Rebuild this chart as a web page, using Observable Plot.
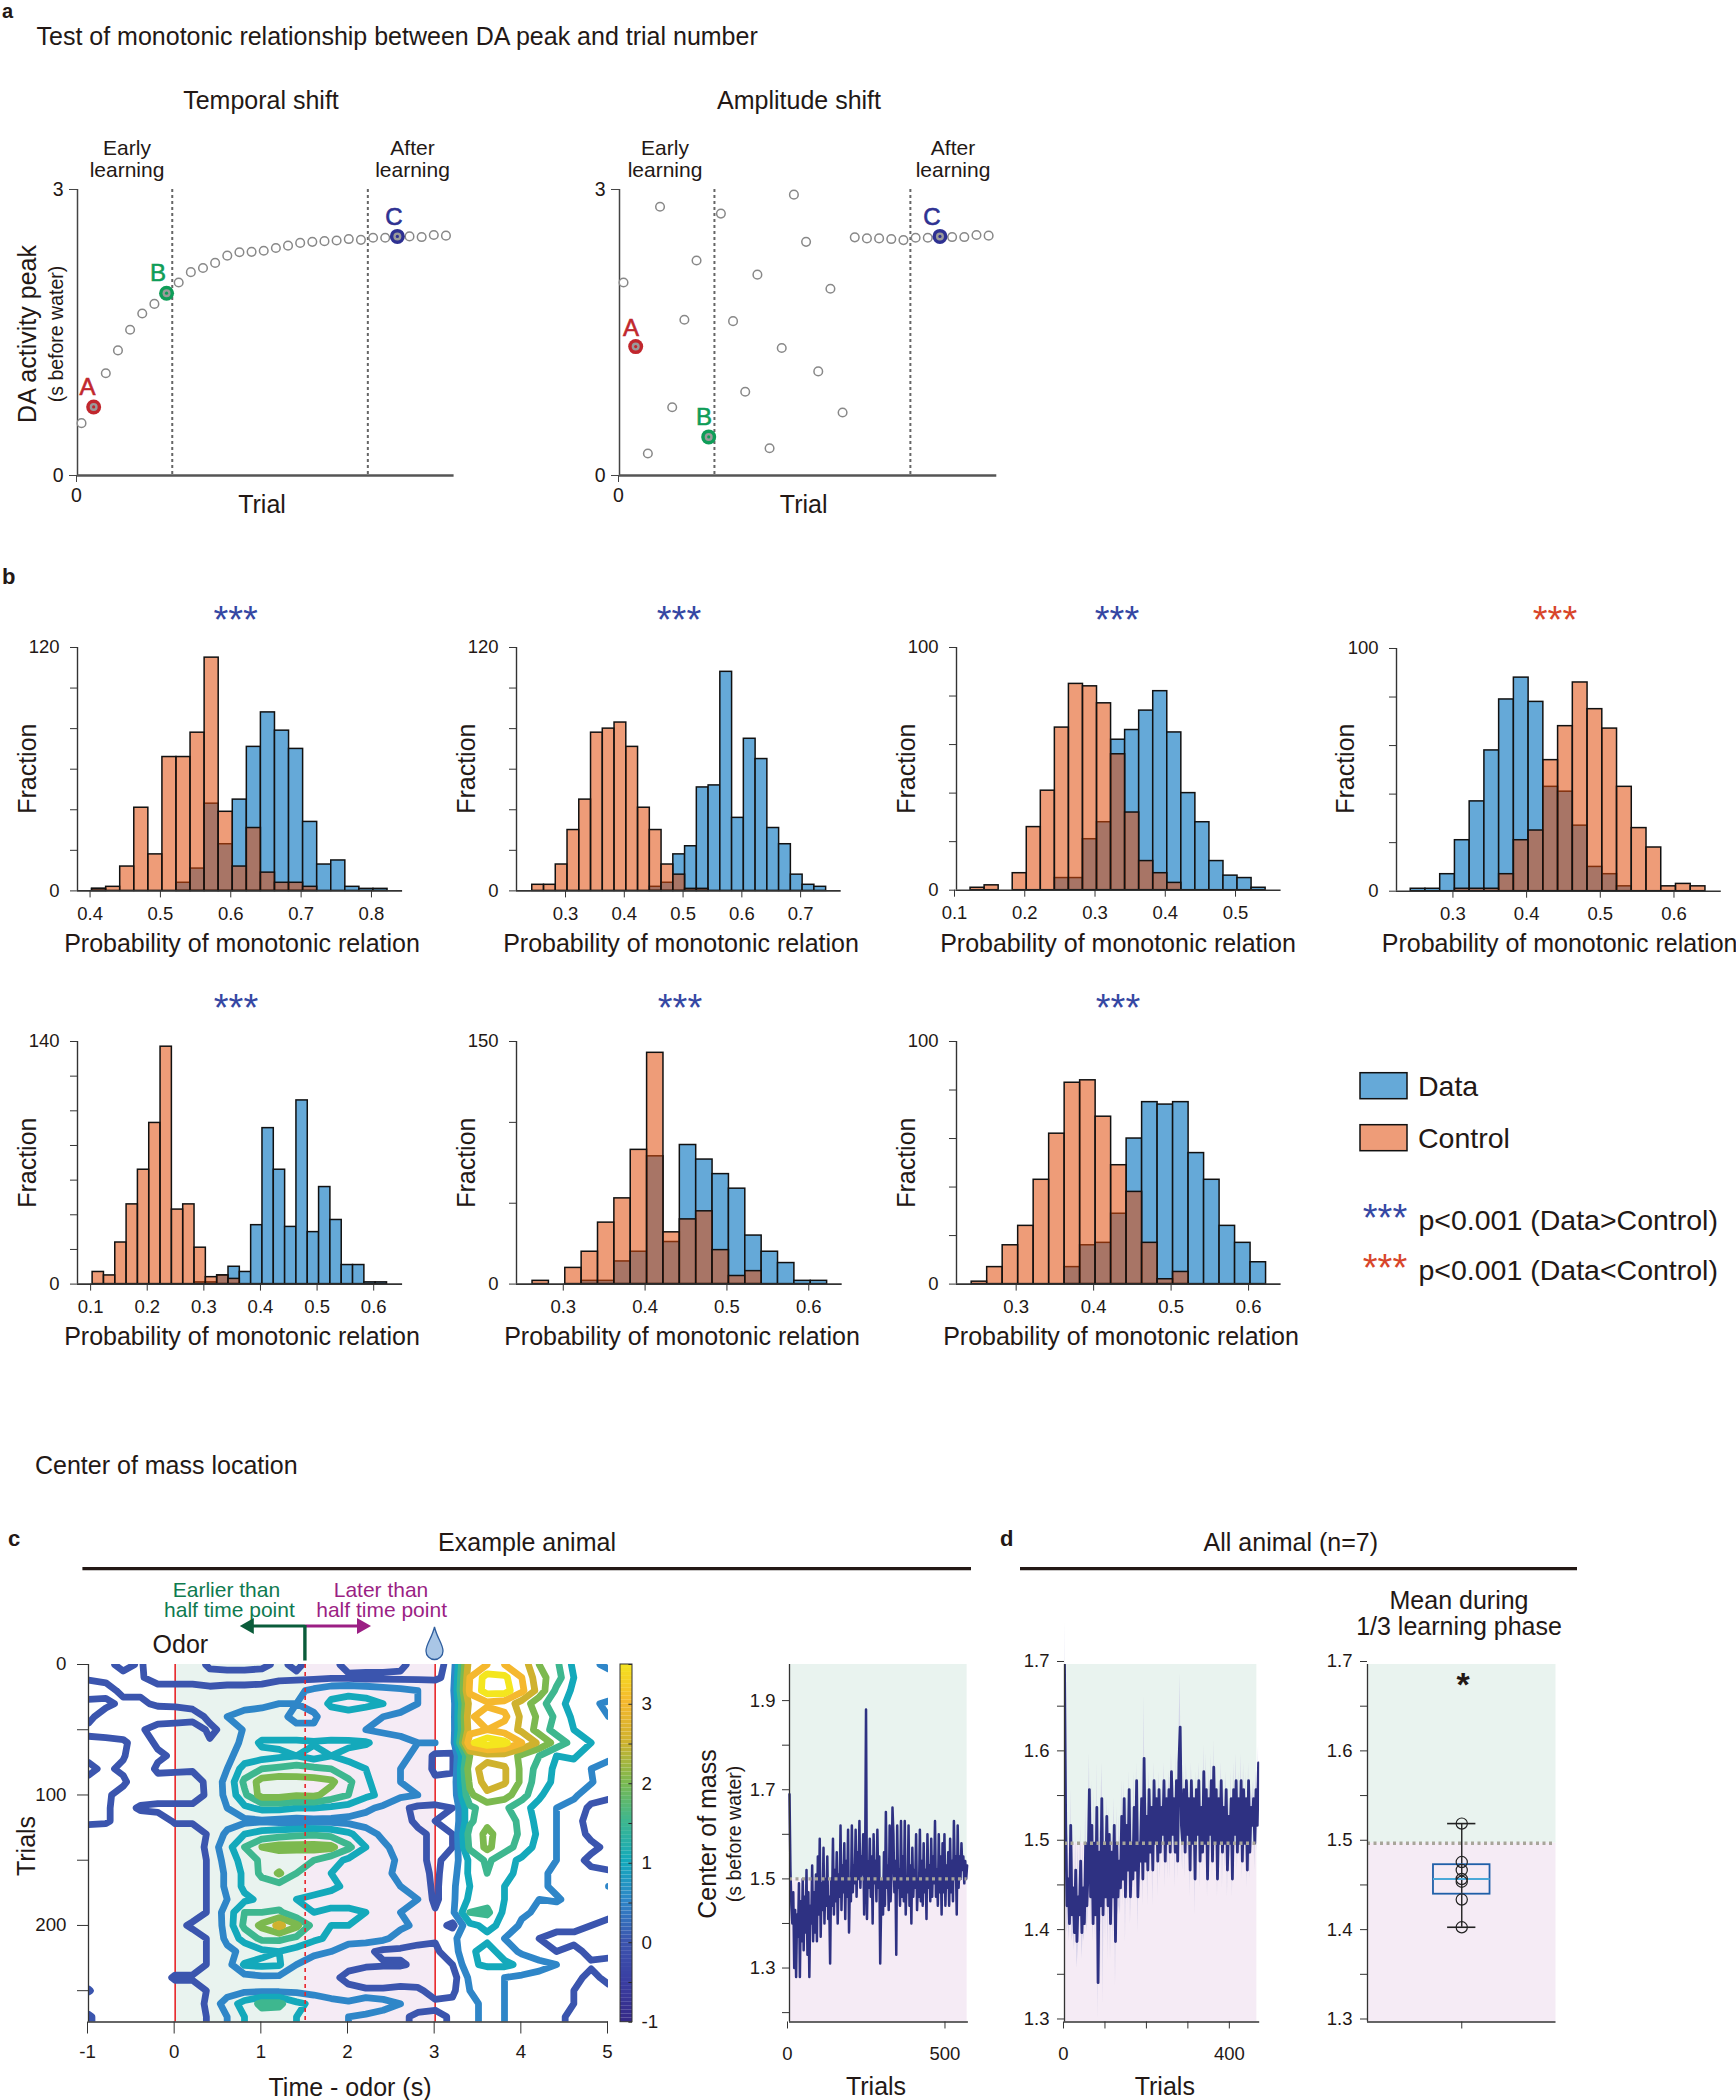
<!DOCTYPE html>
<html><head><meta charset="utf-8">
<script src="https://cdn.jsdelivr.net/npm/d3@7"></script>
<script src="https://cdn.jsdelivr.net/npm/@observablehq/plot@0.6"></script>
<style>
html,body{margin:0;padding:0;background:#fff}
#page{position:relative;width:1736px;height:2100px;overflow:hidden;background:#fff}
#page>div{position:absolute}
#page svg{overflow:visible}
</style></head><body><div id="page"></div>
<script>
// ---------- panel a ----------
const temporalPeak=[0.549,0.719,1.073,1.312,1.529,1.699,1.8,1.912,2.024,2.133,2.176,2.23,2.306,2.342,2.346,2.357,2.386,2.411,2.44,2.451,2.458,2.465,2.48,2.472,2.494,2.494,2.508,2.508,2.501,2.523,2.516];
const amplitudePeak=[2.024,1.352,0.231,2.819,0.716,1.634,2.255,0.405,2.747,1.619,0.878,2.107,0.286,1.337,2.946,2.451,1.092,1.959,0.661,2.498,2.487,2.487,2.48,2.469,2.494,2.494,2.508,2.501,2.501,2.523,2.516];
const markedIndex=[1,7,26];
const markedNames=["A","B","C"];
const markedColors=["#c1272d","#0f9d58","#2e3192"];
const learningBounds=[7.8,23.9];
// ---------- panel b ----------
const hist1Start=.40,hist1Orange=[1,2,12,41,18,66,66,78,115,39,12,31,9,4,4,2,0,0,0,0,0],hist1Blue=[1,0,0,0,0,0,4,11,43,23,45,71,88,79,70,34,13,15,2,1,1];
const hist2Start=.24,hist2Orange=[3,3,13,30,45,78,80,83,71,41,30,13,8,1,1,0,0,0,0,0,0,0,0,0,0],hist2Blue=[0,0,0,0,0,0,0,0,0,0,2,4,18,22,51,52,108,36,75,65,31,23,8,3,2];
const hist3Start=.12,hist3Orange=[1,2,0,7,26,41,67,85,84,77,56,32,12,7,3,0,0,0,0,0,0],hist3Blue=[0,0,0,0,0,0,5,5,21,28,62,66,74,82,65,40,28,12,6,5,1];
const hist4Start=.24,hist4Orange=[0,0,0,1,1,1,7,21,25,54,68,86,75,67,43,26,18,2,3,2],hist4Blue=[1,1,7,21,37,58,79,88,78,43,41,27,10,7,2,0,0,0,0,0];
const hist5Start=.10,hist5Orange=[7,5,24,46,66,93,137,43,46,21,4,5,3,0,0,0,0,0,0,0,0,0,0,0,0,0],hist5Blue=[0,0,0,0,0,0,0,0,0,1,1,5,10,7,34,90,66,33,106,30,56,37,11,11,1,1];
const hist6Start=.26,hist6Orange=[2,0,10,20,38,53,83,143,32,40,45,21,5,8,0,0,0,0],hist6Blue=[0,0,0,2,2,14,20,79,26,86,77,68,59,30,20,13,2,2];
const hist7Start=.24,hist7Orange=[1,7,16,24,43,62,83,84,69,49,38,17,2,5,0,0,0,0,0],hist7Blue=[0,0,0,0,0,0,7,16,17,29,60,75,74,75,54,43,24,17,9];
const starBlue="#3547a3",starRed="#d8452a";
// ---------- panel c contour grid: rows every 10 trials, columns every 0.2 s from -1 to 5 ----------
const heatValues=[
[.1,.1,-.1,.05,-.3,-.4,-.3, .1,.15,.15,.1,-.1,.1,-.2,-.1,.1,.15,.15,.1,-.2,-.1, .1,2.8,3,3,2.8,2,1.6,.9,.7,.3],
[.05,.1,.1,.05,-.2,-.2,-.2, -.2,-.2,-.2,-.2,-.1,-.1,-.1,-.05,-.05,-.1,-.1,-.1,-.1,-.1, .2,3,3.7,3.6,3,2.2,1.7,1,.6,.9],
[-.2,-.15,.1,.1,.2,.2,.2, .1,.15,.15,.2,.3,.4,.6,.8,.85,.8,.7,.6,.5,.4, .3,3.1,3.7,3.7,3.1,2.3,1.4,.9,.8,.9],
[.1,.1,-.1,-.1,.1,.1,.15, .05,.2,.45,.45,.5,.5,.6,1.1,1.2,1.15,1,.6,.5,.4, .2,2.7,2.9,2.8,2.3,1.7,1.2,.8,.6,.4],
[.1,-.2,-.3,-.4,-.4,-.3,-.2, .1,.5,.55,.6,.6,.4,.45,.7,.8,.6,.5,.45,.45,.4, .2,2.9,3.3,3.1,2.4,1.9,1.4,.9,.7,.5],
[-.1,-.3,-.3,-.1,.3,.3,.3, -.1,.15,.55,.6,.6,.6,.55,.6,.55,.5,.4,.4,.45,.4, .2,2.8,3,2.8,2.4,1.8,1.3,1,.8,.5],
[.1,.2,.1,-.3,.1,.3,.3, .05,.3,.6,1.1,1.1,1.1,1.05,1.1,1.1,1.05,.8,.6,.5,.5, .2,3.4,3.8,3.6,3,2.4,1.8,1.3,1,.9],
[.1,.1,.05,-.4,-.1,.1,.2, .1,.4,.7,.8,.9,1,.8,1,.85,.7,.6,.55,.45,-.1, -.05,2,2.3,2.3,1.9,1.5,1,1.1,.6,.7],
[-.1,.1,-.1,-.4,.1,.15,.1, .15,.5,1.2,1.5,1.6,1.7,1.6,1.5,1.2,1,.6,.5,.4,-.1, -.05,2.3,2.7,2.55,1.9,1.3,.9,.7,.5,.2],
[.1,.2,.1,-.4,-.2,-.4,-.4, .25,.6,1.6,2.2,2.3,2.2,2.2,2.1,1.6,1.1,.7,.5,.4,.1, .1,2.1,2.7,2.55,1.9,1.2,.9,.5,.55,.1],
[.2,.1,-.2,-.4,-.4,-.4,-.4, .2,.6,1.4,2.2,2.2,2.05,2.1,1.8,1.5,1.1,.9,.6,.5,.3, .1,1.9,2.4,2.2,1.7,1.1,.6,.6,.2,.1],
[.1,.1,-.3,.1,.2,.2,.2, .1,.5,.9,1.1,1.1,1,1,.9,.8,.6,.4,.1,-.1,-.1, 0,1.4,1.7,1.6,1.2,.8,.5,.3,-.1,-.2],
[.15,.1,-.3,-.4,-.4,.1,.1, .05,.3,.4,.45,.4,.35,.4,.4,.35,.3,.2,.1,-.05,0, 0,1.4,1.9,1.7,1.4,.8,.5,.2,-.2,-.3],
[-.4,-.4,-.4,-.4,-.4,-.4,-.4, .1,.6,1,1.2,1.3,1.4,1.45,1.35,1.1,.7,.4,.2,.05,-.05, 0,1.7,2.1,1.8,1.4,.9,.5,.2,-.1,-.2],
[-.4,-.4,-.4,-.4,-.4,-.4,-.4, .2,.8,1.5,2,2.15,2.15,2.15,2.1,1.6,1,.6,.3,.1,-.1, 0,1.6,2.1,1.7,1.3,.8,.5,.2,.1,-.1],
[-.4,-.4,-.4,-.4,-.4,-.4,-.4, .1,.7,1.2,1.6,1.6,1.5,1.5,1.2,.9,.8,.7,.4,.1,-.1, .2,1.1,1.6,1.2,.9,.6,.5,.15,-.1,-.3],
[-.4,-.4,-.4,-.4,-.4,-.4,-.4, .1,.6,1.1,1.6,2.05,1.5,1.1,1,.9,.8,.6,.4,.2,-.1, .3,1.1,1.5,1.1,.9,.6,.4,.2,.1,.1],
[-.4,-.4,-.4,-.4,-.4,-.4,-.4, .1,.6,1.1,1.3,1.3,1.3,1.2,1.1,.9,.7,.6,.5,.3,-.1, .4,1,1.1,1,.8,.6,.4,.45,.3,.5],
[-.4,-.4,-.4,-.4,-.4,-.4,-.4, .1,.5,.9,1.1,1.1,1,.9,.8,.8,.7,.7,.6,.5,-.1, .4,1.1,1.3,1,.8,.5,.55,.35,.5,.1],
[-.4,-.4,-.4,-.4,-.4,-.4,-.4, .1,.7,1.5,1.5,1.6,1.1,1,1.1,1.1,1,.9,.5,.4,.05, .4,1.5,1.6,.9,.6,.4,.3,.2,.1,.1],
[-.4,-.4,-.4,-.4,-.4,-.3,.15, .05,.7,1.6,2.1,2.6,2.1,1.3,1,1,.9,.7,.6,.4,.2, -.1,.9,1.1,.9,.4,.2,.1,.1,0,-.1],
[-.4,-.4,-.4,-.4,-.4,-.4,-.4, .1,.6,1.2,1.6,1.6,1.4,1.1,.9,.8,.7,.6,.3,.1,.05, .4,.8,.9,.5,.3,0,-.1,-.1,-.2,-.2],
[-.4,-.4,-.4,-.4,-.4,-.4,-.4, .1,.4,.6,.9,1,.8,.6,.5,.1,.1,-.1,-.1,-.1,-.1, .3,.9,1.2,.8,.4,.1,0,.1,-.1,-.1],
[-.4,-.4,-.4,-.4,-.4,-.4,-.4, .1,.3,1.05,1.1,1.05,.5,.3,.1,.1,.05,.05,.05,-.1,-.1, 0,.9,1.1,1.1,.9,.7,.5,.2,.05,.1],
[-.3,-.4,-.4,-.4,-.4,.1,.1, .1,.2,.3,.4,.4,.3,.2,.1,-.1,-.2,-.4,-.4,-.3,-.6, -.2,.6,.5,.5,.4,.3,.1,.1,-.1,.1],
[.05,-.4,-.4,-.4,-.4,-.4,-.4, .1,.3,.4,.4,.4,.4,.3,.2,.1,.05,.1,.2,.1,-.2, -.1,.5,.7,.5,.4,.1,.1,0,-.1,-.1],
[-.4,-.4,-.4,-.4,-.4,-.4,-.4, .2,.7,1.2,1.6,1.6,1.1,.9,.7,.6,.9,.7,.5,.2,.1, .1,.4,.6,.5,.4,.1,.05,0,-.1,-.1],
[.1,-.4,-.4,-.4,-.4,-.4,-.4, .1,.5,1,1.3,1.2,1,.8,.6,.5,.4,.3,.1,-.1,-.1, .05,.4,.6,.5,.2,.1,.1,-.1,-.2,-.2]
];
const heatLevels=[0,.5,1,1.5,2,2.5,3,3.5];
const colorStops=[-1,-.5,0,.5,1,1.5,2,2.5,3,3.5];
const colorHexes=["#352a87","#3a3fa3","#3b55ae","#2f86c8","#14a9bb","#3eb78f","#7cb94f","#cfb22e","#f5b82e","#f4e61e"];
// ---------- panel c centre of mass, one value every 3 trials ----------
const exampleCom=[1.69,1.52,1.44,1.40,1.47,1.30,1.43,1.28,1.42,1.37,1.49,1.28,1.45,1.36,1.50,1.34,1.46,1.38,1.52,1.33,
1.47,1.28,1.44,1.40,1.53,1.36,1.47,1.38,1.51,1.36,1.55,1.42,1.59,1.37,1.49,1.43,1.57,1.40,1.50,1.44,
1.55,1.41,1.46,1.31,1.50,1.44,1.59,1.42,1.52,1.45,1.56,1.40,1.51,1.46,1.62,1.43,1.53,1.47,1.58,1.41,
1.54,1.46,1.61,1.38,1.50,1.45,1.62,1.47,1.53,1.49,1.61,1.46,1.56,1.50,1.63,1.48,1.55,1.51,1.60,1.42,
1.52,1.88,1.41,1.54,1.48,1.59,1.46,1.55,1.40,1.60,1.49,1.54,1.45,1.61,1.48,1.55,1.31,1.44,1.50,1.42,
1.56,1.44,1.65,1.48,1.53,1.43,1.62,1.45,1.51,1.66,1.60,1.47,1.54,1.33,1.62,1.48,1.52,1.44,1.63,1.46,
1.55,1.45,1.63,1.42,1.50,1.47,1.62,1.44,1.53,1.40,1.57,1.46,1.52,1.48,1.60,1.43,1.50,1.46,1.61,1.45,
1.54,1.44,1.58,1.47,1.52,1.41,1.60,1.48,1.53,1.45,1.59,1.46,1.55,1.49,1.63,1.46,1.52,1.44,1.60,1.47,
1.55,1.42,1.58,1.47,1.60,1.44,1.53,1.48,1.56,1.44,1.59,1.47,1.54,1.45,1.63,1.50,1.55,1.42,1.62,1.48,
1.55,1.50,1.58,1.52,1.55,1.49,1.54,1.50,1.53];
// ---------- panel d mean and error, one value every 3 trials ----------
const allCom=[1.70,1.52,1.43,1.46,1.41,1.52,1.42,1.45,1.40,1.47,1.39,1.44,1.42,1.48,1.40,1.45,1.41,1.50,1.43,1.47,
1.56,1.44,1.52,1.41,1.50,1.42,1.54,1.344,1.49,1.43,1.55,1.42,1.50,1.44,1.53,1.43,1.51,1.41,1.49,1.44,
1.52,1.39,1.50,1.44,1.48,1.45,1.53,1.46,1.55,1.44,1.52,1.47,1.56,1.44,1.50,1.46,1.54,1.47,1.57,1.44,
1.50,1.48,1.55,1.46,1.595,1.48,1.53,1.47,1.56,1.49,1.54,1.47,1.57,1.50,1.55,1.48,1.56,1.49,1.54,1.51,
1.57,1.48,1.55,1.50,1.56,1.49,1.58,1.51,1.55,1.49,1.57,1.48,1.59,1.63,1.52,1.50,1.56,1.49,1.57,1.51,
1.55,1.47,1.57,1.50,1.55,1.46,1.56,1.51,1.57,1.48,1.54,1.49,1.58,1.50,1.56,1.46,1.55,1.51,1.57,1.48,
1.585,1.50,1.56,1.46,1.55,1.50,1.57,1.49,1.54,1.50,1.56,1.47,1.53,1.50,1.55,1.46,1.56,1.51,1.57,1.49,
1.55,1.50,1.57,1.48,1.56,1.50,1.55,1.47,1.57,1.49,1.54,1.52,1.55,1.50,1.56,1.52,1.59];
const allSem=[.05,.06,.03,.05,.02,.04,.03,.05,.02,.04,.03,.06,.02,.04,.03,.05,.02,.04,.03,.05,
.04,.03,.05,.02,.06,.03,.05,.04,.03,.08,.04,.10,.03,.05,.02,.06,.03,.04,.02,.05,
.03,.05,.04,.02,.05,.03,.04,.03,.02,.05,.03,.04,.02,.03,.05,.02,.04,.03,.02,.04,
.03,.02,.04,.03,.07,.02,.03,.04,.02,.03,.02,.04,.02,.03,.02,.04,.02,.03,.02,.03,
.02,.03,.02,.04,.02,.03,.02,.03,.02,.04,.03,.02,.03,.06,.02,.03,.02,.03,.02,.03,
.02,.03,.02,.03,.02,.04,.02,.03,.02,.03,.02,.02,.03,.02,.04,.02,.03,.02,.03,.02,
.03,.02,.03,.02,.02,.03,.02,.04,.02,.03,.02,.03,.02,.02,.03,.02,.03,.02,.03,.02,
.03,.02,.03,.02,.03,.02,.03,.02,.02,.03,.02,.03,.02,.03,.02,.03,.02];
const animalMeans=[1.522,1.479,1.470,1.460,1.457,1.437,1.406];
const boxStats={q1:1.443,median:1.460,q3:1.476,low:1.406,high:1.522};

// ---------- style ----------
const FONT='"Liberation Sans",Arial,sans-serif', INK="#231815";
const BLUE="#65a9d8", ORANGE="rgb(224,75,10)", ORANGE_A=.55;
const GREEN_BG="#e9f3ef", PURPLE_BG="#f5ebf5";
const page=document.getElementById("page");

function addPlot(f,{x,y,marks,color,m={}}){
  const M={top:16,right:16,bottom:50,left:60,...m};
  const plot=Plot.plot({
    width:f.r-f.l+M.left+M.right,height:f.b-f.t+M.top+M.bottom,
    marginTop:M.top,marginRight:M.right,marginBottom:M.bottom,marginLeft:M.left,
    style:{background:"transparent",fontFamily:FONT,maxWidth:"none",color:INK,overflow:"visible"},
    x:{axis:null,...x},y:{axis:null,...y},color,marks});
  const d=document.createElement("div");
  d.style.left=(f.l-M.left)+"px";d.style.top=(f.t-M.top)+"px";
  d.appendChild(plot);page.appendChild(d);
  return plot;
}

// ---------- panel a ----------
function scatterPanel(f,values){
  const pts=values.map((v,i)=>({t:i+.33,v}));
  const sel=markedIndex.map((i,k)=>({...pts[i],c:markedColors[k]}));
  addPlot(f,{x:{domain:[0,31]},y:{domain:[0,3]},marks:[
    Plot.ruleX(learningBounds,{stroke:"#666",strokeWidth:2,strokeDasharray:"3,3"}),
    Plot.ruleX([0],{stroke:"#444",strokeWidth:1.5}),
    Plot.ruleY([0],{stroke:"#555",strokeWidth:2.5}),
    Plot.axisY({ticks:[0,3],tickSize:8,tickPadding:6,fontSize:19.5,label:null,stroke:"#444",tickFormat:d=>String(d)}),
    Plot.axisX({ticks:[0],tickSize:7,tickPadding:6,fontSize:19.5,label:null,stroke:"#444",dx:-1,tickFormat:d=>String(d)}),
    Plot.dot(pts,{x:"t",y:"v",r:4.3,stroke:"#888",strokeWidth:1.5,fill:"white"}),
    Plot.dot(sel,{x:"t",y:"v",r:7.5,fill:"c",stroke:"none"}),
    Plot.dot(sel,{x:"t",y:"v",r:4,fill:"#9a9a9a",stroke:"none"}),
    Plot.dot(sel,{x:"t",y:"v",r:1.6,fill:"c",stroke:"none"})
  ]});
}
scatterPanel({l:77,r:453.6,t:189,b:475},temporalPeak);
scatterPanel({l:618.7,r:996,t:189,b:475},amplitudePeak);

// ---------- panel b ----------
function histPanel(f,domain,yMax,yStep,xTicks,start,blue,orange){
  const bars=a=>a.map((v,i)=>({x1:start+i*.02,x2:start+(i+1)*.02,v})).filter(d=>d.v>0);
  addPlot(f,{x:{domain},y:{domain:[0,yMax]},marks:[
    Plot.rect(bars(blue),{x1:"x1",x2:"x2",y1:0,y2:"v",fill:BLUE,stroke:"#111",strokeWidth:1.5}),
    Plot.rect(bars(orange),{x1:"x1",x2:"x2",y1:0,y2:"v",fill:ORANGE,fillOpacity:ORANGE_A,stroke:"#111",strokeWidth:1.5}),
    Plot.ruleX([domain[0]],{stroke:"#333",strokeWidth:1.4}),
    Plot.ruleY([0],{stroke:"#333",strokeWidth:1.6}),
    Plot.axisY({ticks:d3.range(0,yMax+1,yStep),tickSize:7,tickPadding:11,fontSize:18.5,label:null,stroke:"#333",
      tickFormat:d=>(d===0||d===yMax)?String(d):""}),
    Plot.axisX({ticks:xTicks,tickSize:7,tickPadding:9,fontSize:18.5,label:null,stroke:"#333",dx:-2,tickFormat:d=>d.toFixed(1)})
  ]});
}
histPanel({l:76.9,r:402,t:647.3,b:890.7},[.3793,.8414],120,20,[.4,.5,.6,.7,.8],hist1Start,hist1Blue,hist1Orange);
histPanel({l:516.3,r:841,t:647.3,b:890.7},[.2132,.7656],120,20,[.3,.4,.5,.6,.7],hist2Start,hist2Blue,hist2Orange);
histPanel({l:956.4,r:1281,t:647.3,b:890},[.1,.562],100,20,[.1,.2,.3,.4,.5],hist3Start,hist3Blue,hist3Orange);
histPanel({l:1395.8,r:1720.6,t:648.3,b:891},[.2207,.6615],100,20,[.3,.4,.5,.6],hist4Start,hist4Blue,hist4Orange);
histPanel({l:76.9,r:402,t:1040.7,b:1283.3},[.0733,.6475],140,20,[.1,.2,.3,.4,.5,.6],hist5Start,hist5Blue,hist5Orange);
histPanel({l:516.3,r:842,t:1040.7,b:1283.3},[.2404,.6384],150,50,[.3,.4,.5,.6],hist6Start,hist6Blue,hist6Orange);
histPanel({l:956.4,r:1281,t:1040.7,b:1283.3},[.2204,.6394],100,20,[.3,.4,.5,.6],hist7Start,hist7Blue,hist7Orange);

// ---------- panel c contour ----------
const colorScale={type:"linear",domain:colorStops,range:colorHexes,interpolate:"rgb"};
const padRow=r=>[r[0],...r,r[r.length-1]];
const heatGrid=[padRow(heatValues[0]),...heatValues.map(padRow),padRow(heatValues[heatValues.length-1])];
const heatFrame={l:88,r:608,t:1663.5,b:2021};
addPlot(heatFrame,{x:{domain:[-1,5]},y:{domain:[274,0]},color:colorScale,marks:[
  Plot.rect([{a:0,b:1.5,c:GREEN_BG},{a:1.5,b:3,c:PURPLE_BG}],{x1:"a",x2:"b",y1:0,y2:274,fill:"c"}),
  Plot.ruleX([0,3],{stroke:"#e8262a",strokeWidth:1.6}),
  Plot.contour(heatGrid.flat(),{width:33,height:30,x1:-1.3,x2:5.3,y1:-15,y2:285,value:d=>d,thresholds:heatLevels,
    stroke:"value",fill:"none",strokeWidth:6.8,strokeLinejoin:"round",clip:true}),
  Plot.ruleX([1.5],{stroke:"#e8262a",strokeWidth:1.6,strokeDasharray:"4,4"}),
  Plot.ruleX([-1],{stroke:"#333",strokeWidth:1.3}),
  Plot.ruleY([274],{stroke:"#333",strokeWidth:1.5}),
  Plot.axisY({ticks:[0,50,100,150,200,250],tickSize:11,tickPadding:11,fontSize:18.7,label:null,stroke:"#333",
    tickFormat:d=>d%100===0?String(d):""}),
  Plot.axisX({ticks:[-1,0,1,2,3,4,5],tickSize:12,tickPadding:11,fontSize:18.7,label:null,stroke:"#333",dx:-1,tickFormat:d=>String(d)})
]});
// colour bar
addPlot({l:620,r:632,t:1664,b:2021.7},{x:{domain:[0,1]},y:{domain:[-1,3.5]},color:colorScale,m:{left:4,right:30,bottom:10,top:10},marks:[
  Plot.rect(d3.range(-1,3.5,.05),{x1:0,x2:1,y1:d=>d,y2:d=>d+.05,fill:d=>d}),
  Plot.ruleY(d3.range(-1,3.51,.5),{x1:.7,x2:1,stroke:"#222"}),
  Plot.rect([0],{x1:0,x2:1,y1:-1,y2:3.5,fill:"none",stroke:"#333"}),
  Plot.axisY({anchor:"right",ticks:[-1,0,1,2,3],tickSize:0,tickPadding:9,fontSize:18.7,label:null,tickFormat:d=>String(d)})
]});

// ---------- centre of mass panels ----------
const comFrameTop=1663.5, comFrameBottom=2021;
function bgMarks(x1,x2,y0,y1){
  return [Plot.rect([0],{x1,x2,y1:1.5,y2:y1,fill:GREEN_BG}),Plot.rect([0],{x1,x2,y1:y0,y2:1.5,fill:PURPLE_BG})];
}
const dotted=(x1,x2)=>Plot.ruleY([1.5],{x1,x2,stroke:"#a8a59a",strokeWidth:3.4,strokeDasharray:"3,3.5"});
// c right
{const d=exampleCom.map((v,i)=>({t:i*3,v}));
 addPlot({l:789.1,r:968,t:comFrameTop,b:comFrameBottom},{x:{domain:[0,568]},y:{domain:[1.179,1.981]},marks:[
  ...bgMarks(0,564,1.179,1.981),
  Plot.line(d,{x:"t",y:"v",stroke:"#2e3182",strokeWidth:2.5,strokeLinejoin:"round"}),
  dotted(0,564),
  Plot.ruleX([0],{stroke:"#333",strokeWidth:1.3}),
  Plot.ruleY([1.179],{stroke:"#333",strokeWidth:1.5}),
  Plot.axisY({ticks:[1.2,1.3,1.4,1.5,1.6,1.7,1.8,1.9],tickSize:7,tickPadding:7,fontSize:18.5,label:null,stroke:"#333",
    tickFormat:d=>[1.3,1.5,1.7,1.9].includes(+d.toFixed(1))?d.toFixed(1):""}),
  Plot.axisX({ticks:[0,500],tickSize:7,tickPadding:18,fontSize:18.5,label:null,stroke:"#333",dx:-2,tickFormat:d=>String(d)})
 ]});}
// d left
{const d=allCom.map((v,i)=>({t:i*3,v,lo:v-allSem[i],hi:v+allSem[i]}));
 addPlot({l:1063.8,r:1259,t:comFrameTop,b:comFrameBottom},{x:{domain:[0,470.8]},y:{domain:[1.3,1.7]},marks:[
  ...bgMarks(0,464,1.3,1.7),
  Plot.areaY(d,{x:"t",y1:"lo",y2:"hi",fill:"#c9c7e4",fillOpacity:.65}),
  Plot.line(d,{x:"t",y:"v",stroke:"#2e3182",strokeWidth:2.8,strokeLinejoin:"round",clip:true}),
  dotted(0,470),
  Plot.ruleX([0],{stroke:"#333",strokeWidth:1.3}),
  Plot.ruleY([1.3],{stroke:"#333",strokeWidth:1.5}),
  Plot.axisY({ticks:d3.range(1.3,1.701,.05),tickSize:7,tickPadding:8,fontSize:18.5,label:null,stroke:"#333",dy:-3,
    tickFormat:d=>Math.abs(d*10-Math.round(d*10))<.01?d.toFixed(1):""}),
  Plot.axisX({ticks:[0,100,200,300,400],tickSize:7,tickPadding:18,fontSize:18.5,label:null,stroke:"#333",dx:-1,
    tickFormat:d=>(d===0||d===400)?String(d):""})
 ]});}
// d right
{const pts=animalMeans.map(v=>({x:.5,v}));
 addPlot({l:1366.9,r:1555.4,t:comFrameTop,b:comFrameBottom},{x:{domain:[0,1]},y:{domain:[1.3,1.7]},marks:[
  ...bgMarks(0,1,1.3,1.7),
  dotted(0,1),
  Plot.ruleX([.5],{y1:boxStats.low,y2:boxStats.high,stroke:"#222",strokeWidth:1.4}),
  Plot.ruleY([boxStats.low,boxStats.high],{x1:.425,x2:.575,stroke:"#222",strokeWidth:1.6}),
  Plot.rect([boxStats],{x1:.35,x2:.65,y1:"q1",y2:"q3",fill:"none",stroke:"#1f5fa8",strokeWidth:1.8}),
  Plot.ruleY([boxStats.median],{x1:.35,x2:.65,stroke:"#4aa8d8",strokeWidth:1.8}),
  Plot.dot(pts,{x:"x",y:"v",r:5.6,stroke:"#222",strokeWidth:1.2,fill:"none"}),
  Plot.ruleX([0],{stroke:"#333",strokeWidth:1.3}),
  Plot.ruleY([1.3],{stroke:"#333",strokeWidth:1.5}),
  Plot.axisY({ticks:d3.range(1.3,1.701,.05),tickSize:7,tickPadding:8,fontSize:18.5,label:null,stroke:"#333",dy:-3,
    tickFormat:d=>Math.abs(d*10-Math.round(d*10))<.01?d.toFixed(1):""}),
  Plot.axisX({ticks:[.5],tickSize:7,tickFormat:()=>"",label:null,stroke:"#333"})
 ]});}

// ---------- overlay text and annotations ----------
const over=d3.select(page).append("div").style("left","0").style("top","0").style("pointer-events","none")
  .append("svg").attr("width",1736).attr("height",2100).style("font-family",FONT);
function T(s,x,y,{size=25,anchor="middle",color=INK,weight=400,rot=0,outline=0}={}){
  const t=over.append("text").text(s).attr("text-anchor",anchor).attr("dominant-baseline","central")
    .attr("font-size",size).attr("font-weight",weight).attr("fill",color)
    .attr("transform",`translate(${x},${y})`+(rot?` rotate(${rot})`:""));
  if(outline)t.attr("stroke",color).attr("stroke-width",outline);
}
T("a",2,11,{anchor:"start",size:20,weight:700});
T("b",2,576,{anchor:"start",size:22,weight:700});
T("c",8,1538,{anchor:"start",size:22,weight:700});
T("d",1000,1538,{anchor:"start",size:22,weight:700});
T("Test of monotonic relationship between DA peak and trial number",36.5,35.5,{anchor:"start"});
T("Temporal shift",261,99.5);T("Amplitude shift",799,99.5);
[[127,"Early"],[412.5,"After"],[665,"Early"],[953,"After"]].forEach(([x,s])=>{T(s,x,147,{size:21});T("learning",x,169,{size:21});});
T("DA activity peak",26.5,334,{rot:-90});T("(s before water)",56,334,{rot:-90,size:19.5});
T("Trial",262,504);T("Trial",803.7,504);
[[87.5,386],[158,272],[394,216],[631,327],[704,416],[932,216]].forEach(([x,y],i)=>T(markedNames[i%3],x,y,{size:24,color:markedColors[i%3],outline:.6}));
[[235.7,614,starBlue],[679,614,starBlue],[1117,614,starBlue],[1555,614,starRed],[236,1002,starBlue],[680,1002,starBlue],[1118,1002,starBlue]]
  .forEach(([x,y,c])=>T("***",x,y+6,{size:38,color:c}));
[[242,942.7],[681,942.7],[1118,942.7],[1559.6,942.7],[242,1336],[682,1336],[1121,1336]].forEach(([x,y])=>T("Probability of monotonic relation",x,y));
[[27,768.7],[466,768.7],[905.6,768.7],[1345,768.7],[27,1162.7],[466,1162.7],[905.6,1162.7]].forEach(([x,y])=>T("Fraction",x,y,{rot:-90}));
// legend
[[1072.7,BLUE,"Data",1],[1124.7,ORANGE,"Control",ORANGE_A]].forEach(([y,c,s,o])=>{
  over.append("rect").attr("x",1360).attr("y",y).attr("width",47).attr("height",26).attr("fill",c).attr("fill-opacity",o).attr("stroke","#111").attr("stroke-width",1.5);
  T(s,1418,y+13.5,{anchor:"start",size:28.5});
});
T("***",1385,1218,{size:38,color:starBlue});T("***",1385,1268,{size:38,color:starRed});
T("p<0.001 (Data>Control)",1418.5,1220,{anchor:"start",size:28.5});
T("p<0.001 (Data<Control)",1418.5,1269.5,{anchor:"start",size:28.5});
// lower section
T("Center of mass location",35,1465,{anchor:"start"});
T("Example animal",527,1542);T("All animal (n=7)",1290.8,1542);
[[82.4,971],[1020,1577]].forEach(([a,b])=>over.append("line").attr("x1",a).attr("x2",b).attr("y1",1568.7).attr("y2",1568.7).attr("stroke",INK).attr("stroke-width",3.2));
const EARLY="#0f7a4f",LATE="#9b1f84";
T("Earlier than",226.4,1589,{size:21,color:EARLY});T("half time point",229.4,1609,{size:21,color:EARLY});
T("Later than",381,1589,{size:21,color:LATE});T("half time point",381.6,1609,{size:21,color:LATE});
const arrow=(x2,c,s)=>{
  over.append("line").attr("x1",304.9).attr("x2",x2-s*10).attr("y1",1626).attr("y2",1626).attr("stroke",c).attr("stroke-width",3.2);
  over.append("path").attr("d",`M${x2},1626L${x2-s*14},1618L${x2-s*14},1634Z`).attr("fill",c);
};
arrow(239.8,"#0a5c3a",-1);arrow(371,LATE,1);
over.append("line").attr("x1",304.9).attr("x2",304.9).attr("y1",1625).attr("y2",1660.5).attr("stroke","#0a5c3a").attr("stroke-width",3.4);
over.append("path").attr("d","M434.5,1627C437,1638 443,1644 443,1651A8.5,8.5 0 0 1 426,1651C426,1644 432,1638 434.5,1627Z")
  .attr("fill","#a9c6e6").attr("stroke","#2f5e9e").attr("stroke-width",1.3);
T("Odor",180.4,1644,{size:25});
T("Trials",26,1846,{rot:-90});
T("Time - odor (s)",350,2086.7);
T("Center of mass",707,1834,{rot:-90});T("(s before water)",734,1834,{rot:-90,size:19.5});
T("Trials",876,2085.6);T("Trials",1164.8,2085.6);
T("Mean during",1459,1600);T("1/3 learning phase",1459,1625.6);
T("*",1463,1684,{size:34,weight:700});
</script></body></html>
